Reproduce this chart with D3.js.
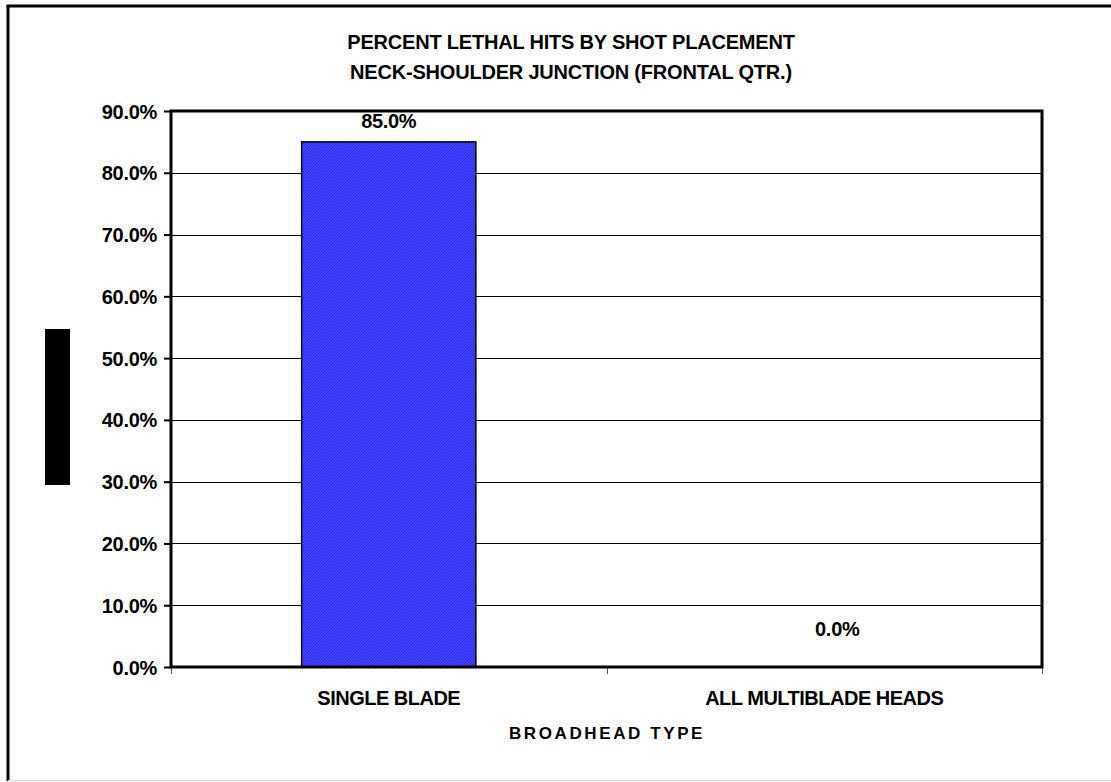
<!DOCTYPE html>
<html>
<head>
<meta charset="utf-8">
<script src="https://cdn.jsdelivr.net/npm/d3@7"></script>
<style>
  html, body { margin: 0; padding: 0; background: #fff; }
  svg { display: block; }
  text { font-family: "Liberation Sans", Arial, Helvetica, sans-serif; font-weight: bold; fill: #000; }
</style>
</head>
<body>
<svg id="chart" width="1111" height="782"></svg>
<script>
// Lethal-hit percentages by broadhead type
const categories = ["SINGLE BLADE", "ALL MULTIBLADE HEADS"];
const values = [85.0, 0.0];
const yTicks = [0, 10, 20, 30, 40, 50, 60, 70, 80, 90];
const titleLines = ["PERCENT LETHAL HITS BY SHOT PLACEMENT", "NECK-SHOULDER JUNCTION (FRONTAL QTR.)"];
const xTitle = "BROADHEAD TYPE";

const svg = d3.select("#chart");
const W = 1111, H = 782;
const plot = { left: 171, top: 111, right: 1042, bottom: 667 };

// textured blue fill for the bars
const defs = svg.append("defs");
const pat = defs.append("pattern")
  .attr("id", "blueTex").attr("patternUnits", "userSpaceOnUse")
  .attr("width", 3).attr("height", 3);
pat.append("rect").attr("width", 3).attr("height", 3).attr("fill", "#4141ff");
pat.append("path").attr("d", "M0,3 L3,0").attr("stroke", "#2c2ce6").attr("stroke-width", 1);

// outer chart border
svg.append("line").attr("x1", 8).attr("y1", 5).attr("x2", 8).attr("y2", 781)
  .attr("stroke", "#000").attr("stroke-width", 3);
svg.append("line").attr("x1", 6.5).attr("y1", 6).attr("x2", W).attr("y2", 6)
  .attr("stroke", "#000").attr("stroke-width", 3);
svg.append("line").attr("x1", 8).attr("y1", 780.5).attr("x2", W).attr("y2", 780.5)
  .attr("stroke", "#d4d4d4").attr("stroke-width", 1);

// scales
const x = d3.scaleBand().domain(categories)
  .range([plot.left, plot.right]).paddingInner(0.6).paddingOuter(0.3);
const y = d3.scaleLinear().domain([0, 90]).range([plot.bottom, plot.top]);

// gridlines
svg.append("g").selectAll("line").data(yTicks.slice(1, -1)).join("line")
  .attr("x1", plot.left).attr("x2", plot.right)
  .attr("y1", d => Math.round(y(d)) + 0.5).attr("y2", d => Math.round(y(d)) + 0.5)
  .attr("stroke", "#000").attr("stroke-width", 1);

// bars
const data = categories.map((c, i) => ({ cat: c, value: values[i] }));
svg.append("g").selectAll("rect").data(data.filter(d => d.value > 0)).join("rect")
  .attr("x", d => x(d.cat)).attr("y", d => y(d.value))
  .attr("width", x.bandwidth()).attr("height", d => y(0) - y(d.value))
  .attr("fill", "url(#blueTex)").attr("stroke", "#000").attr("stroke-width", 1.5);

// y axis
const yAxis = d3.axisLeft(y).tickValues(yTicks)
  .tickFormat(d => d3.format(".1f")(d) + "%").tickSize(7).tickPadding(7);
const gy = svg.append("g").attr("transform", `translate(${plot.left},0)`).call(yAxis);
gy.select(".domain").remove();
gy.selectAll(".tick line").attr("stroke", "#000").attr("stroke-width", 2);
gy.selectAll(".tick text").style("font-size", "20px").style("letter-spacing", "-0.3px").attr("dy", "0.35em");

// x axis tick marks at category boundaries
const step = x.step();
const bounds = d3.range(categories.length + 1).map(i => plot.left + i * step);
svg.append("g").selectAll("line").data(bounds).join("line")
  .attr("x1", d => Math.round(d) + 0.5).attr("x2", d => Math.round(d) + 0.5)
  .attr("y1", plot.bottom).attr("y2", plot.bottom + 7)
  .attr("stroke", "#555").attr("stroke-width", 1);

// category labels
svg.append("g").selectAll("text").data(categories).join("text")
  .attr("x", d => x(d) + x.bandwidth() / 2).attr("y", 705)
  .attr("text-anchor", "middle").style("font-size", "20px").style("letter-spacing", "-0.5px")
  .text(d => d);

// plot frame
svg.append("rect")
  .attr("x", plot.left).attr("y", plot.top)
  .attr("width", plot.right - plot.left).attr("height", plot.bottom - plot.top)
  .attr("fill", "none").attr("stroke", "#000").attr("stroke-width", 3);

// value labels
svg.append("g").selectAll("text").data(data).join("text")
  .attr("x", d => x(d.cat) + x.bandwidth() / 2 + (d.value === 0 ? 13 : 0))
  .attr("y", d => y(d.value) - (d.value === 0 ? 31 : 14))
  .attr("text-anchor", "middle").style("font-size", "20px").style("letter-spacing", "-0.3px")
  .text(d => d3.format(".1f")(d.value) + "%");

// titles
svg.append("g").selectAll("text").data(titleLines).join("text")
  .attr("x", 571).attr("y", (d, i) => 49 + i * 30)
  .attr("text-anchor", "middle").style("font-size", "20px").style("letter-spacing", "-0.2px")
  .text(d => d);

svg.append("text").attr("x", 607).attr("y", 739)
  .attr("text-anchor", "middle").style("font-size", "17px").style("letter-spacing", "2.6px")
  .text(xTitle);

// y-axis title block
svg.append("rect").attr("x", 45).attr("y", 329).attr("width", 25).attr("height", 156).attr("fill", "#000");
</script>
</body>
</html>
